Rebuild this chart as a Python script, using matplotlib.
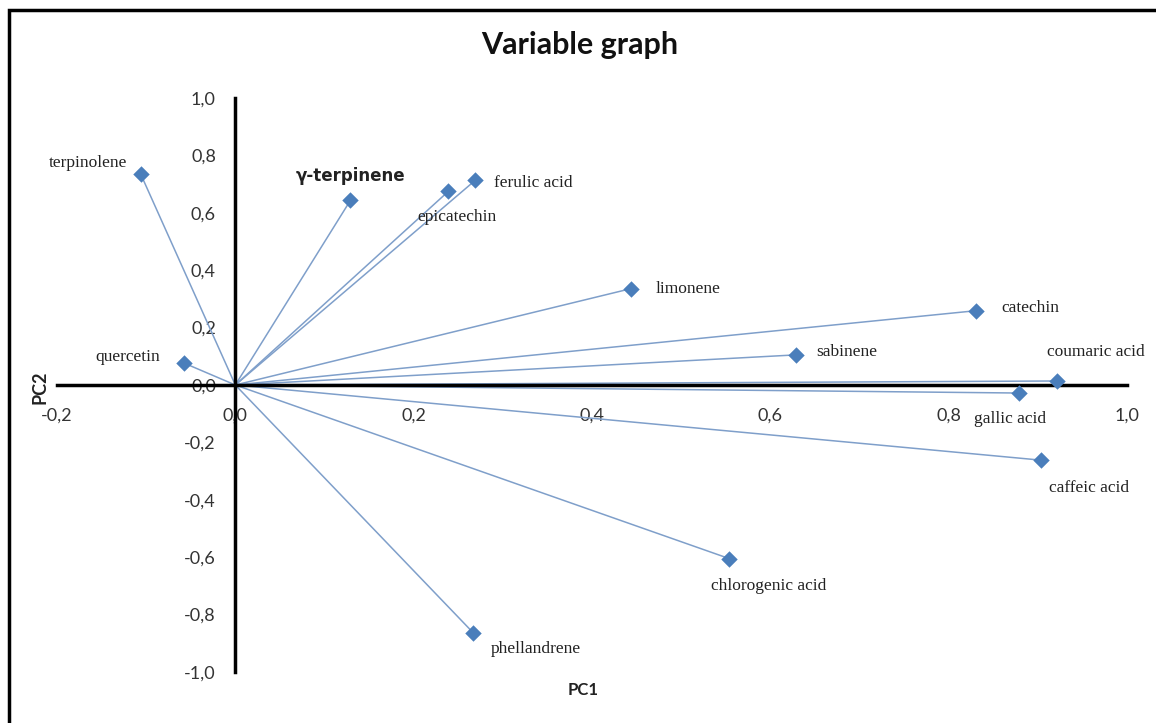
import numpy as np
from matplotlib import pyplot as plt
from matplotlib.patches import Rectangle

names = ['terpinolene', 'γ-terpinene', 'epicatechin', 'ferulic acid', 'limonene',
         'catechin', 'sabinene', 'coumaric acid', 'gallic acid', 'caffeic acid',
         'chlorogenic acid', 'phellandrene', 'quercetin']
pc1 = [-0.106, 0.129, 0.239, 0.269, 0.444, 0.831, 0.629, 0.922, 0.879, 0.904,
       0.554, 0.267, -0.058]
pc2 = [0.734, 0.643, 0.675, 0.713, 0.336, 0.259, 0.105, 0.014, -0.028, -0.262,
       -0.605, -0.864, 0.077]

# label offsets in pixels (dx, dy) and alignment
offs = {
    'terpinolene': (-14, 11, 'right'),
    'γ-terpinene': (0, 24, 'center'),
    'epicatechin': (9, -26, 'center'),
    'ferulic acid': (19, -3, 'left'),
    'limonene': (24, 0, 'left'),
    'catechin': (25, 3, 'left'),
    'sabinene': (20, 3, 'left'),
    'coumaric acid': (-10, 29, 'left'),
    'gallic acid': (-45, -26, 'left'),
    'caffeic acid': (8, -28, 'left'),
    'chlorogenic acid': (-18, -27, 'left'),
    'phellandrene': (17, -16, 'left'),
    'quercetin': (-23, 6, 'right'),
}

fig = plt.figure(figsize=(11.56, 7.23), dpi=100)
ax = fig.add_axes([57/1156, 1-672/723, 1070/1156, 574/723])
ax.set_xlim(-0.2, 1.0)
ax.set_ylim(-1.0, 1.0)

for x, y in zip(pc1, pc2):
    ax.plot([0, x], [0, y], color='#7f9fca', lw=1.1, zorder=2)
ax.scatter(pc1, pc2, marker='D', s=70, color='#4a7ebb', zorder=4, linewidths=0)

px = 72 / 100
for n, x, y in zip(names, pc1, pc2):
    dx, dy, ha = offs[n]
    if n == 'γ-terpinene':
        ax.annotate(n, (x, y), xytext=(dx*px, dy*px), textcoords='offset points',
                    ha=ha, va='center', fontsize=12, fontweight='bold',
                    family='DejaVu Sans', color='#222222')
    else:
        ax.annotate(n, (x, y), xytext=(dx*px, dy*px), textcoords='offset points',
                    ha=ha, va='center', fontsize=12.5, family='Liberation Serif',
                    color='#222222')

for s in ['top', 'right']:
    ax.spines[s].set_visible(False)
ax.spines['left'].set_position(('data', 0))
ax.spines['bottom'].set_position(('data', 0))
ax.spines['left'].set_linewidth(2.5)
ax.spines['bottom'].set_linewidth(2.5)
ax.spines['left'].set_zorder(3)
ax.spines['bottom'].set_zorder(3)

xt = np.arange(-0.2, 1.01, 0.2)
yt = np.arange(-1.0, 1.01, 0.2)
ax.set_xticks(xt)
ax.set_yticks(yt)
ax.set_xticklabels([f'{v:.1f}'.replace('.', ',').replace('-0,0', '0,0') for v in xt])
ax.set_yticklabels([f'{v:.1f}'.replace('.', ',').replace('-0,0', '0,0') for v in yt])
ax.tick_params(length=0, labelsize=13, colors='#333333', pad=0)
for lab in ax.get_xticklabels():
    lab.set_family('Lato')
for lab in ax.get_yticklabels():
    lab.set_family('Lato')
ax.tick_params(axis='x', pad=16)
ax.tick_params(axis='y', pad=14)

fig.text(583/1156, 1-690/723, 'PC1', ha='center', va='center', fontsize=12,
         fontweight='bold', family='Lato', color='#222222')
fig.text(40/1156, 1-387/723, 'PC2', ha='center', va='center', fontsize=13,
         fontweight='bold', family='Lato', rotation=90, color='#222222')
fig.text(580/1156, 1-45/723, 'Variable graph', ha='center', va='center',
         fontsize=22, fontweight='bold', family='Lato', color='#111111')

fig.patches.append(Rectangle((9/1156, -0.05), 1.2, 1 - 10/723 + 0.05,
                             transform=fig.transFigure, fill=False,
                             edgecolor='black', lw=2.5))

fig.savefig('out.png', dpi=100)
